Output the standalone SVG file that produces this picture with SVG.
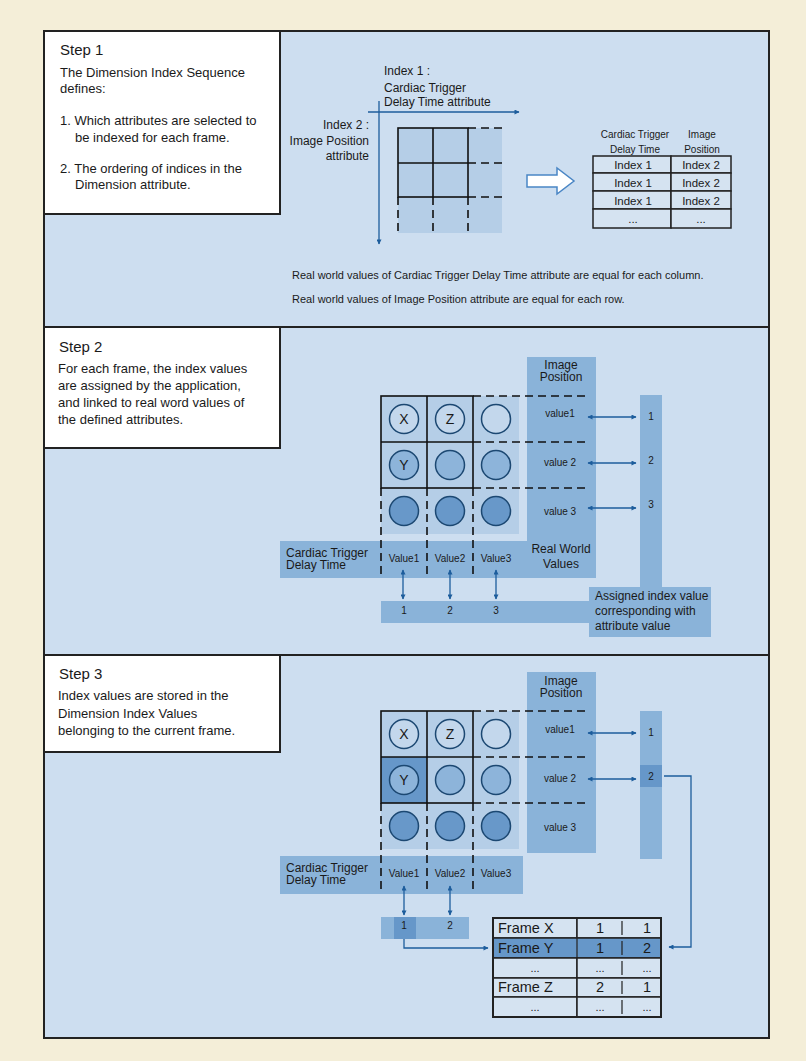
<svg xmlns="http://www.w3.org/2000/svg" width="806" height="1061" viewBox="0 0 806 1061">
<defs>
<style>
text{font-family:"Liberation Sans",Arial,sans-serif;fill:#1a1a1a}
.step{font-size:15px}
.body{font-size:13px}
.lbl12{font-size:12px}
.lbl11{font-size:11px}
.lbl10{font-size:10px}
.c{text-anchor:middle}
.r{text-anchor:end}
.box{fill:#fff;stroke:#222;stroke-width:2}
.shade{fill:#b5cee7}
.bar{fill:#8ab3d9}
.dark{fill:#6697c9}
.solid{fill:none;stroke:#111;stroke-width:1.6}
.dash{fill:none;stroke:#111;stroke-width:1.6;stroke-dasharray:8 5}
.cell{fill:#d5e3f1;stroke:#222;stroke-width:1.5}
.circ{stroke:#1c4872;stroke-width:1.5}
.c1{fill:#c3d7ec}
.c2{fill:#8db4da}
.c3{fill:#6898c9}
.da{fill:none;stroke:#1d5d9c;stroke-width:1.3;marker-start:url(#ah);marker-end:url(#ah)}
.ea{fill:none;stroke:#1d5d9c;stroke-width:1.3;marker-end:url(#ah)}
.thin{stroke:#222;stroke-width:1.2}
</style>
<marker id="ah" viewBox="0 0 10 10" refX="9" refY="5" markerWidth="6" markerHeight="5" markerUnits="userSpaceOnUse" orient="auto-start-reverse">
<path d="M0,0 L10,5 L0,10 Z" fill="#1d5d9c"/>
</marker>
</defs>
<rect x="0" y="0" width="806" height="1061" fill="#f4eed8"/>
<rect x="44" y="31" width="725" height="1007" fill="#cddef0" stroke="#222" stroke-width="2"/>
<line x1="44" y1="327" x2="769" y2="327" stroke="#222" stroke-width="2"/>
<line x1="44" y1="655" x2="769" y2="655" stroke="#222" stroke-width="2"/>

<!-- Step 1 -->
<g id="step1-box">
<rect class="box" x="44" y="31" width="236" height="183"/>
<text class="step" x="60" y="55">Step 1</text>
<text class="body" x="60" y="77">The Dimension Index Sequence</text>
<text class="body" x="60" y="93">defines:</text>
<text class="body" x="60" y="125">1. Which attributes are selected to</text>
<text class="body" x="75" y="142">be indexed for each frame.</text>
<text class="body" x="60" y="173">2. The ordering of indices in the</text>
<text class="body" x="75" y="189">Dimension attribute.</text>
</g>
<g id="step1-grid">
<rect class="shade" x="398" y="128" width="104" height="105"/>
<rect class="solid" x="398" y="128" width="70" height="69"/>
<line class="solid" x1="433" y1="128" x2="433" y2="197"/>
<line class="solid" x1="398" y1="163" x2="468" y2="163"/>
<path class="dash" d="M468,128H506M468,163H506M468,197H506M398,197V234M433,197V234M468,197V234"/>
<text class="lbl12" x="384" y="75">Index 1 :</text>
<text class="lbl12" x="384" y="92">Cardiac Trigger</text>
<text class="lbl12" x="384" y="106">Delay Time attribute</text>
<text class="lbl12 r" x="369" y="129">Index 2 :</text>
<text class="lbl12 r" x="369" y="145">Image Position</text>
<text class="lbl12 r" x="369" y="160">attribute</text>
</g>
<g id="step1-arrow">
<polygon points="527,175 557,175 557,168 574,181 557,194 557,187 527,187" fill="#fff" stroke="#4a86c5" stroke-width="1.5"/>
</g>
<g id="step1-table">
<text class="lbl10 c" x="635" y="138">Cardiac Trigger</text>
<text class="lbl10 c" x="635" y="153">Delay Time</text>
<text class="lbl10 c" x="702" y="138">Image</text>
<text class="lbl10 c" x="702" y="153">Position</text>
<rect class="cell" x="593" y="156" width="78" height="17"/>
<rect class="cell" x="671" y="156" width="60" height="17"/>
<rect class="cell" x="593" y="173" width="78" height="18"/>
<rect class="cell" x="671" y="173" width="60" height="18"/>
<rect class="cell" x="593" y="191" width="78" height="18"/>
<rect class="cell" x="671" y="191" width="60" height="18"/>
<rect class="cell" x="593" y="209" width="78" height="19"/>
<rect class="cell" x="671" y="209" width="60" height="19"/>
<text class="c" font-size="11.5" x="633" y="169">Index 1</text>
<text class="c" font-size="11.5" x="701" y="169">Index 2</text>
<text class="c" font-size="11.5" x="633" y="187">Index 1</text>
<text class="c" font-size="11.5" x="701" y="187">Index 2</text>
<text class="c" font-size="11.5" x="633" y="205">Index 1</text>
<text class="c" font-size="11.5" x="701" y="205">Index 2</text>
<text class="c" font-size="11.5" x="633" y="223">...</text>
<text class="c" font-size="11.5" x="701" y="223">...</text>
</g>
<g id="step1-notes">
<text class="lbl11" x="292" y="279">Real world values of Cardiac Trigger Delay Time attribute are equal for each column.</text>
<text class="lbl11" x="292" y="303">Real world values of Image Position attribute are equal for each row.</text>
</g>

<!-- Step 2 -->
<g id="step2-box">
<rect class="box" x="44" y="327" width="236" height="121"/>
<text class="step" x="59" y="352">Step 2</text>
<text class="body" x="58" y="373">For each frame, the index values</text>
<text class="body" x="58" y="390">are assigned by the application,</text>
<text class="body" x="58" y="407">and linked to real word values of</text>
<text class="body" x="58" y="424">the defined attributes.</text>
</g>
<g id="step2-bars">
<rect class="bar" x="527" y="357" width="69" height="221"/>
<rect class="bar" x="280" y="541" width="316" height="37"/>
<rect class="bar" x="640" y="395" width="22" height="193"/>
<rect class="bar" x="589" y="587" width="122" height="50"/>
<rect class="bar" x="381" y="601" width="209" height="22"/>
<text class="lbl12 c" x="561" y="369">Image</text>
<text class="lbl12 c" x="561" y="381">Position</text>
<text class="lbl10 c" x="560" y="417">value1</text>
<text class="lbl10 c" x="560" y="466">value 2</text>
<text class="lbl10 c" x="560" y="515">value 3</text>
<text class="lbl12" x="286" y="557">Cardiac Trigger</text>
<text class="lbl12" x="286" y="569">Delay Time</text>
<text class="lbl10 c" x="404" y="562">Value1</text>
<text class="lbl10 c" x="450" y="562">Value2</text>
<text class="lbl10 c" x="496" y="562">Value3</text>
<text class="lbl12 c" x="561" y="553">Real World</text>
<text class="lbl12 c" x="561" y="568">Values</text>
<text class="lbl10 c" x="651" y="420">1</text>
<text class="lbl10 c" x="651" y="464">2</text>
<text class="lbl10 c" x="651" y="508">3</text>
<text class="lbl10 c" x="404" y="614">1</text>
<text class="lbl10 c" x="450" y="614">2</text>
<text class="lbl10 c" x="496" y="614">3</text>
<text class="lbl12" x="595" y="600">Assigned index value</text>
<text class="lbl12" x="595" y="615">corresponding with</text>
<text class="lbl12" x="595" y="630">attribute value</text>
</g>
<g id="step2-grid">
<rect class="shade" x="381" y="396" width="138" height="138"/>
<rect class="solid" x="381" y="396" width="92" height="92"/>
<line class="solid" x1="427" y1="396" x2="427" y2="488"/>
<line class="solid" x1="381" y1="442" x2="473" y2="442"/>
<path class="dash" d="M473,396H586M473,442H586M473,488H586M381,488V576M427,488V576M473,488V576"/>
<circle class="circ c1" cx="404" cy="419" r="14.5"/>
<circle class="circ c1" cx="450" cy="419" r="14.5"/>
<circle class="circ c1" cx="496" cy="419" r="14.5"/>
<circle class="circ c2" cx="404" cy="465" r="14.5"/>
<circle class="circ c2" cx="450" cy="465" r="14.5"/>
<circle class="circ c2" cx="496" cy="465" r="14.5"/>
<circle class="circ c3" cx="404" cy="511" r="14.5"/>
<circle class="circ c3" cx="450" cy="511" r="14.5"/>
<circle class="circ c3" cx="496" cy="511" r="14.5"/>
<text class="c" font-size="14" x="404" y="424">X</text>
<text class="c" font-size="14" x="450" y="424">Z</text>
<text class="c" font-size="14" x="404" y="470">Y</text>
</g>

<!-- Step 3 -->
<g id="step3-box">
<rect class="box" x="44" y="655" width="236" height="97"/>
<text class="step" x="59" y="679">Step 3</text>
<text class="body" x="58" y="700">Index values are stored in the</text>
<text class="body" x="58" y="718">Dimension Index Values</text>
<text class="body" x="58" y="735">belonging to the current frame.</text>
</g>
<g id="step3-bars">
<rect class="bar" x="527" y="672" width="69" height="181"/>
<rect class="bar" x="280" y="856" width="243" height="38"/>
<rect class="bar" x="640" y="711" width="22" height="148"/>
<rect class="dark" x="640" y="765" width="22" height="22"/>
<rect class="bar" x="381" y="917" width="88" height="22"/>
<rect class="dark" x="394" y="917" width="22" height="22"/>
<text class="lbl12 c" x="561" y="685">Image</text>
<text class="lbl12 c" x="561" y="697">Position</text>
<text class="lbl10 c" x="560" y="733">value1</text>
<text class="lbl10 c" x="560" y="782">value 2</text>
<text class="lbl10 c" x="560" y="831">value 3</text>
<text class="lbl12" x="286" y="872">Cardiac Trigger</text>
<text class="lbl12" x="286" y="884">Delay Time</text>
<text class="lbl10 c" x="404" y="877">Value1</text>
<text class="lbl10 c" x="450" y="877">Value2</text>
<text class="lbl10 c" x="496" y="877">Value3</text>
<text class="lbl10 c" x="651" y="736">1</text>
<text class="lbl10 c" x="651" y="780">2</text>
<text class="lbl10 c" x="404" y="929">1</text>
<text class="lbl10 c" x="450" y="929">2</text>
</g>
<g id="step3-grid">
<rect class="shade" x="381" y="711" width="138" height="138"/>
<rect class="dark" x="381" y="757" width="46" height="46"/>
<rect class="solid" x="381" y="711" width="92" height="92"/>
<line class="solid" x1="427" y1="711" x2="427" y2="803"/>
<line class="solid" x1="381" y1="757" x2="473" y2="757"/>
<path class="dash" d="M473,711H586M473,757H586M473,803H586M381,803V890M427,803V890M473,803V890"/>
<circle class="circ c1" cx="404" cy="734" r="14.5"/>
<circle class="circ c1" cx="450" cy="734" r="14.5"/>
<circle class="circ c1" cx="496" cy="734" r="14.5"/>
<circle class="circ c2" cx="404" cy="780" r="14.5"/>
<circle class="circ c2" cx="450" cy="780" r="14.5"/>
<circle class="circ c2" cx="496" cy="780" r="14.5"/>
<circle class="circ c3" cx="404" cy="826" r="14.5"/>
<circle class="circ c3" cx="450" cy="826" r="14.5"/>
<circle class="circ c3" cx="496" cy="826" r="14.5"/>
<text class="c" font-size="14" x="404" y="739">X</text>
<text class="c" font-size="14" x="450" y="739">Z</text>
<text class="c" font-size="14" x="404" y="785">Y</text>
</g>
<g id="frame-table">
<rect class="cell" x="493" y="918" width="84" height="20"/>
<rect class="cell" x="577" y="918" width="84" height="20"/>
<rect x="493" y="938" width="168" height="20" fill="#6697c9" stroke="#222" stroke-width="1.5"/>
<line class="thin" x1="577" y1="938" x2="577" y2="958"/>
<rect class="cell" x="493" y="958" width="84" height="20"/>
<rect class="cell" x="577" y="958" width="84" height="20"/>
<rect class="cell" x="493" y="978" width="84" height="19"/>
<rect class="cell" x="577" y="978" width="84" height="19"/>
<rect class="cell" x="493" y="997" width="84" height="20"/>
<rect class="cell" x="577" y="997" width="84" height="20"/>
<rect x="493" y="918" width="168" height="99" fill="none" stroke="#222" stroke-width="2"/>
<path class="thin" d="M622,921V935M622,941V955M622,961V975M622,981V994M622,1000V1014"/>
<text font-size="14.5" x="498" y="933">Frame X</text>
<text font-size="14.5" x="498" y="953">Frame Y</text>
<text font-size="14.5" x="498" y="992">Frame Z</text>
<text class="c" font-size="11" x="535" y="972">...</text>
<text class="c" font-size="11" x="535" y="1011">...</text>
<text class="c" font-size="14.5" x="600" y="933">1</text>
<text class="c" font-size="14.5" x="647" y="933">1</text>
<text class="c" font-size="14.5" x="600" y="953">1</text>
<text class="c" font-size="14.5" x="647" y="953">2</text>
<text class="c" font-size="11" x="600" y="972">...</text>
<text class="c" font-size="11" x="647" y="972">...</text>
<text class="c" font-size="14.5" x="600" y="992">2</text>
<text class="c" font-size="14.5" x="647" y="992">1</text>
<text class="c" font-size="11" x="600" y="1011">...</text>
<text class="c" font-size="11" x="647" y="1011">...</text>
</g>

<g id="connectors">
<line class="ea" x1="368" y1="112" x2="519" y2="112"/>
<line class="ea" x1="379" y1="101" x2="379" y2="244"/>
<line class="da" x1="403" y1="570" x2="403" y2="599"/>
<line class="da" x1="450" y1="570" x2="450" y2="599"/>
<line class="da" x1="496" y1="570" x2="496" y2="599"/>
<line class="da" x1="588" y1="417" x2="636" y2="417"/>
<line class="da" x1="588" y1="463" x2="636" y2="463"/>
<line class="da" x1="588" y1="508" x2="636" y2="508"/>
<line class="da" x1="588" y1="733" x2="636" y2="733"/>
<line class="da" x1="588" y1="779" x2="636" y2="779"/>
<line class="da" x1="404" y1="886" x2="404" y2="915"/>
<line class="da" x1="450" y1="886" x2="450" y2="915"/>
<polyline class="ea" points="404,939 404,948 488,948"/>
<polyline class="ea" points="664,776 691,776 691,947 669,947"/>
</g>
</svg>
